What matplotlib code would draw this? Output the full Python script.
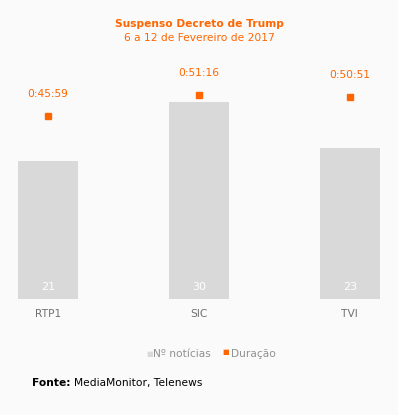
import matplotlib.pyplot as plt

# dados
canais = ['RTP1', 'SIC', 'TVI']
noticias = [21, 30, 23]
duracao = ['0:45:59', '0:51:16', '0:50:51']

laranja = '#ff6600'
cinza = '#d9d9d9'
fundo = '#fafafa'

def segundos(t):
    h, m, s = t.split(':')
    return int(h) * 3600 + int(m) * 60 + int(s)

dur_s = [segundos(t) for t in duracao]

W, H = 398, 415
fig = plt.figure(figsize=(W / 100, H / 100), dpi=100, facecolor=fundo)
ax = fig.add_axes([18 / W, 1 - 299 / H, 362 / W, 219 / H])
ax.set_facecolor(fundo)
ax2 = ax.twinx()

x = range(len(canais))
ax.bar(x, noticias, width=0.4, color=cinza, zorder=1)
ax.set_xlim(-0.2, 2.2)
ax.set_ylim(0, 33.4)
ax2.set_ylim(0, 3308)

for i, v in enumerate(noticias):
    ax.text(i, 1.8, str(v), ha='center', va='center', color='white', fontsize=8)

ax2.plot(x, dur_s, 's', color=laranja, markersize=5, linestyle='none')
for i, (v, t) in enumerate(zip(dur_s, duracao)):
    ax2.annotate(t, (i, v), xytext=(0, 16), textcoords='offset points',
                 ha='center', va='center', color=laranja, fontsize=7.7)

for a in (ax, ax2):
    for s in a.spines.values():
        s.set_visible(False)
    a.set_yticks([])
ax.set_xticks(list(x))
ax.set_xticklabels(canais, color='#707070', fontsize=7.7)
ax.tick_params(axis='x', length=0, pad=7)

fig.text(0.5, 1 - 24 / H, 'Suspenso Decreto de Trump', ha='center', va='center',
         color=laranja, fontsize=7.7, fontweight='bold')
fig.text(0.5, 1 - 38 / H, '6 a 12 de Fevereiro de 2017', ha='center', va='center',
         color=laranja, fontsize=7.7)

# legenda
fig.text(146 / W, 1 - 354 / H, '■', ha='left', va='center', color=cinza, fontsize=5)
fig.text(153 / W, 1 - 354 / H, 'Nº notícias', ha='left', va='center', color='#909090', fontsize=7.7)
fig.text(222 / W, 1 - 352 / H, '■', ha='left', va='center', color=laranja, fontsize=5)
fig.text(231 / W, 1 - 354 / H, 'Duração', ha='left', va='center', color='#909090', fontsize=7.7)

fig.text(32 / W, 1 - 383 / H, 'Fonte:', ha='left', va='center', color='black',
         fontsize=7.7, fontweight='bold')
fig.text(74 / W, 1 - 383 / H, 'MediaMonitor, Telenews', ha='left', va='center',
         color='black', fontsize=7.7)

fig.savefig('out.png', dpi=100, facecolor=fundo)
